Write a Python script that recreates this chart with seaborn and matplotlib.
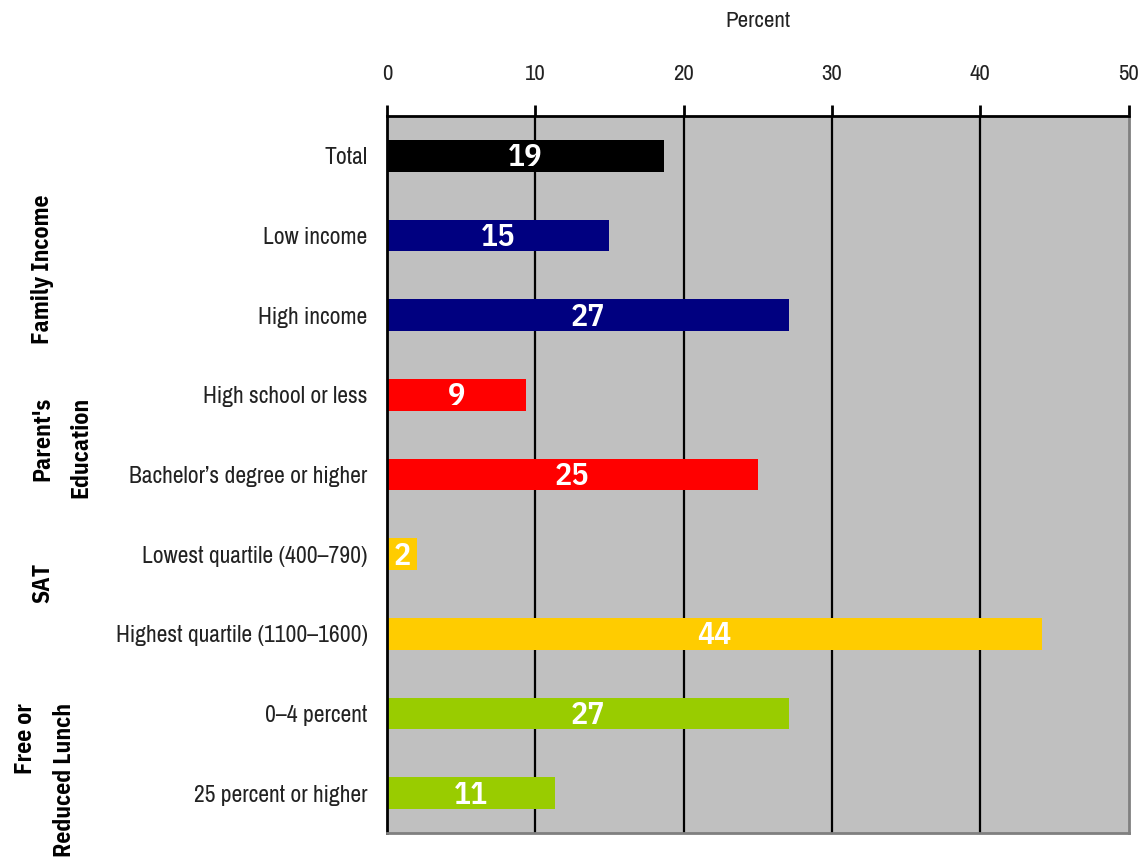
import matplotlib
matplotlib.use("Agg")
import matplotlib.pyplot as plt
import seaborn as sns
import pandas as pd
import numpy as np

categories = ["Total", "Low income", "High income", "High school or less",
              "Bachelor\u2019s degree or higher", "Lowest quartile (400\u2013790)",
              "Highest quartile (1100\u20131600)", "0\u20134 percent", "25 percent or higher"]
values = [18.7, 15.0, 27.1, 9.4, 25.0, 2.0, 44.2, 27.1, 11.3]
labels = ["19", "15", "27", "9", "25", "2", "44", "27", "11"]
colors = ["#000000", "#000080", "#000080", "#FF0000", "#FF0000",
          "#FFCC00", "#FFCC00", "#99CC00", "#99CC00"]
groups = ["Family Income", "Parent's\nEducation", "SAT", "Free or\nReduced Lunch"]
xticks = [0, 10, 20, 30, 40, 50]

# group label placement (figure pixels: center x, top y)
group_pos = [(43, 195), (62, 397), (43, 563), (45, 703)]

sns.set_style("white")
plt.rcParams['font.family'] = ['Archivo Narrow', 'DejaVu Sans']
W, H = 1140, 858

df = pd.DataFrame({"cat": categories, "val": values})

fig = plt.figure(figsize=(W / 100, H / 100), dpi=100)
ax = fig.add_axes([387 / W, 1 - 833 / H, (1128.5 - 387) / W, (833 - 116) / H])
ax.set_facecolor("#C0C0C0")

sns.barplot(data=df, y="cat", x="val", hue="cat", order=categories,
            hue_order=categories, palette=colors, width=0.4, orient="h",
            legend=False, ax=ax, saturation=1, edgecolor="none", linewidth=0)

ax.set_xlim(0, 50)
ax.set_ylim(8.5, -0.5)
ax.xaxis.tick_top()
ax.xaxis.set_label_position("top")
ax.set_xticks(xticks)
ax.set_xticklabels([str(t) for t in xticks], fontsize=16.5, color="#222222")
ax.tick_params(axis="x", direction="out", length=8, width=2, color="black", pad=15)
ax.set_xlabel("Percent", fontsize=16.5, color="#222222", labelpad=27)
ax.set_ylabel("")

ax.set_yticks(range(len(categories)))
ax.set_yticklabels(categories, fontsize=17, color="#222222")
ax.tick_params(axis="y", which="major", length=0, pad=14)
ax.set_yticks(np.arange(-0.5, len(categories), 1), minor=True)
ax.tick_params(axis="y", which="minor", direction="out", length=9, width=2, color="black")

for x in xticks[1:-1]:
    ax.axvline(x, color="black", lw=1.6, zorder=0.5)
ax.set_axisbelow(True)

for side in ["top", "left"]:
    ax.spines[side].set_color("black")
    ax.spines[side].set_linewidth(2)
    ax.spines[side].set_visible(True)
for side in ["right", "bottom"]:
    ax.spines[side].set_color("#808080")
    ax.spines[side].set_linewidth(2)
    ax.spines[side].set_visible(True)

for i, (v, lab) in enumerate(zip(values, labels)):
    ax.text(v / 2, i + 0.02, lab, ha="center", va="center", color="white",
            fontsize=23, fontweight="semibold", family="IBM Plex Sans Condensed")

for g, (px, py) in zip(groups, group_pos):
    fig.text(px / W, 1 - py / H, g, rotation=90, ha="center", va="top",
             multialignment="right", linespacing=1.85,
             fontsize=17, fontweight="bold", color="black",
             family="IBM Plex Sans Condensed")

fig.savefig("out.png", dpi=100)
